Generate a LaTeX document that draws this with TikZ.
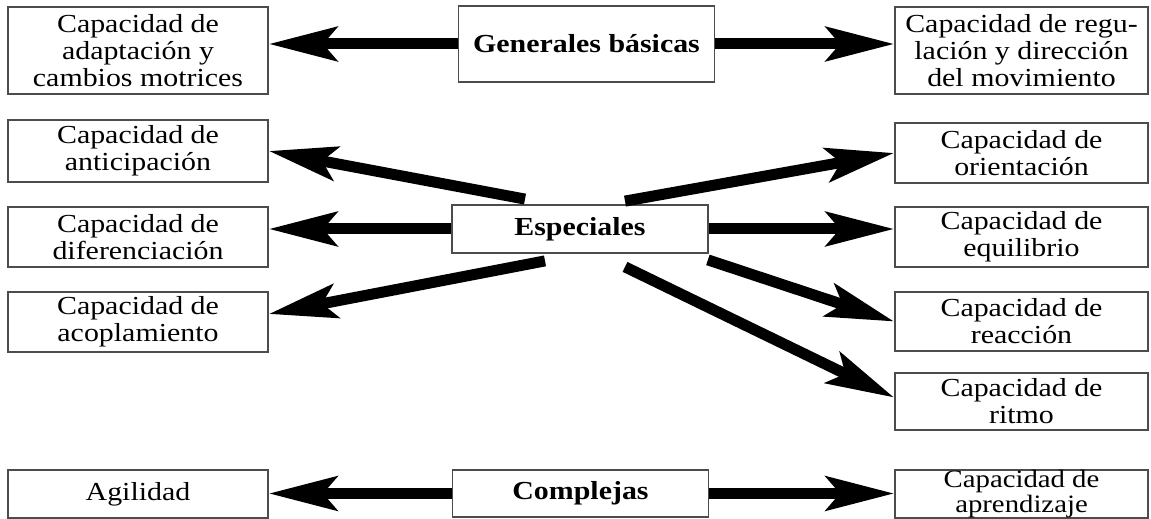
\documentclass[tikz,border=0pt]{standalone}
\usepackage{fontspec}
\setmainfont{Liberation Serif}[FakeStretch=1.15]
\usetikzlibrary{arrows.meta, calc}

\tikzset{
	caja/.style={draw=black!70, line width=0.9pt, align=center, inner sep=1pt,
		font=\fontsize{13}{13.5}\selectfont},
	centro/.style={caja, minimum width=128pt, font=\fontsize{13}{13.5}\selectfont\bfseries},
	izq/.style={caja, minimum width=130pt},
	der/.style={caja, minimum width=126.5pt},
	flecha/.style={line width=5.5pt, -{Stealth[length=34pt, width=17pt, inset=7pt]}},
}

\begin{document}
\begin{tikzpicture}[x=0.5pt, y=0.5pt]
	\useasboundingbox (0,0) rectangle (1151,519);

	% capacidades centrales
	\node [centro, minimum height=38pt] (gen) at (586.5,475) {Generales básicas};
	\node [centro, minimum height=24pt] (esp) at (580,290) {Especiales};
	\node [centro, minimum height=23.5pt] (comp) at (580.5,25.5) {Complejas};

	% columna izquierda
	\node [izq, minimum height=43.5pt] (adap) at (138,468.5) {Capacidad de\\adaptación y\\cambios motrices};
	\node [izq, minimum height=31pt] (anti) at (138,368) {Capacidad de\\anticipación};
	\node [izq, minimum height=30pt] (dife) at (138,282) {Capacidad de\\diferenciación};
	\node [izq, minimum height=30pt] (acop) at (138,197) {Capacidad de\\acoplamiento};
	\node [izq, minimum height=24pt] (agil) at (138,25) {Agilidad};

	% columna derecha
	\node [der, minimum height=43.5pt] (regu) at (1021.5,468.5) {Capacidad de regu-\\lación y dirección\\del movimiento};
	\node [der, minimum height=30pt] (orie) at (1021.5,366) {Capacidad de\\orientación};
	\node [der, minimum height=30pt] (equi) at (1021.5,282) {Capacidad de\\equilibrio};
	\node [der, minimum height=29.5pt] (reac) at (1021.5,197.5) {Capacidad de\\reacción};
	\node [der, minimum height=28.5pt] (ritm) at (1021.5,117.5) {Capacidad de\\ritmo};
	\node [der, minimum height=24pt, inner sep=0pt, font=\fontsize{12.5}{11}\selectfont] (apre) at (1021.5,25) {Capacidad de\\aprendizaje};

	\draw [flecha] (gen.west) -- (gen.west -| adap.east);
	\draw [flecha] (gen.east) -- (gen.east -| regu.west);

	\draw [flecha] ($(esp.north)+(-55,5)$) -- (anti.east);
	\draw [flecha] (esp.west) -- (esp.west -| dife.east);
	\draw [flecha] ($(esp.south)+(-35,-7)$) -- ([yshift=4pt]acop.east);
	\draw [flecha] ($(esp.north)+(45,3)$) -- (orie.west);
	\draw [flecha] (esp.east) -- (esp.east -| equi.west);
	\draw [flecha] ($(esp.south east)+(-1,-6)$) -- (reac.west);
	\draw [flecha] ($(esp.south)+(45,-13)$) -- ([yshift=2pt]ritm.west);

	\draw [flecha] (comp.west) -- (comp.west -| agil.east);
	\draw [flecha] (comp.east) -- (comp.east -| apre.west);
\end{tikzpicture}
\end{document}
